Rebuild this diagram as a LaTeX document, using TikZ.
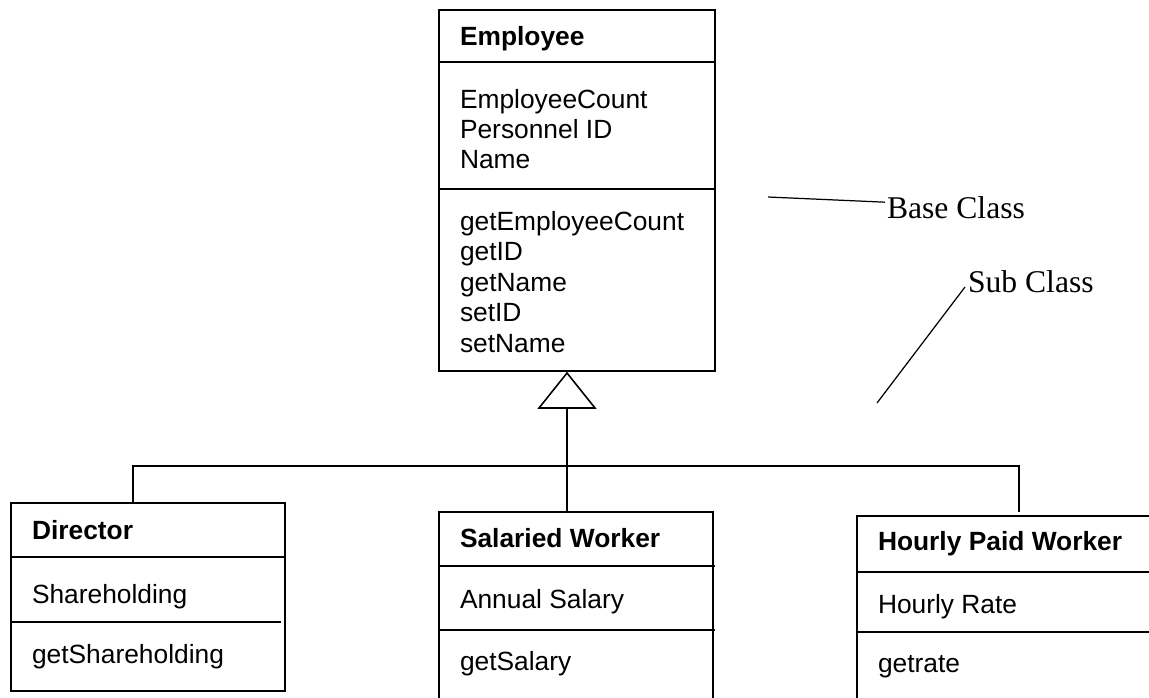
\documentclass[tikz,border=0pt]{standalone}
\usepackage{fontspec}
\setmainfont{Liberation Sans}
\newfontfamily\notefont{Liberation Serif}
\begin{document}
\begin{tikzpicture}[x=0.02cm,y=-0.02cm,inner sep=0pt,outer sep=0pt,line width=0.9pt,
classbox/.style={draw,rectangle,anchor=north west,line width=0.9pt},
member/.style={anchor=base west,font=\fontsize{15}{17}\selectfont},
classtitle/.style={anchor=base west,font=\fontsize{15}{17}\selectfont\bfseries},
note/.style={anchor=base west,font=\notefont\fontsize{18}{21}\selectfont},
leader/.style={line width=0.7pt}]

\useasboundingbox (0,0) rectangle (1149,697);
\clip (0,0) rectangle (1149,697);

% base class
\draw (439,10) node[classbox,minimum width=5.52cm,minimum height=7.22cm] (emp) {};
\draw (emp.west |- 0,62) -- (emp.east |- 0,62);
\draw (emp.west |- 0,189) -- (emp.east |- 0,189);
\node[classtitle] (empname) at (460,45) {Employee};
\foreach \txt [count=\i] in {EmployeeCount,Personnel ID,Name}
  \node[member] (empattr\i) at (460,78+30*\i) {\txt};
\foreach \txt [count=\i] in {getEmployeeCount,getID,getName,setID,setName}
  \node[member] (empop\i) at (460,199.5+30.5*\i) {\txt};

% sub classes
\draw (11,503) node[classbox,minimum width=5.48cm,minimum height=3.76cm] (dir) {};
\draw (dir.west |- 0,557) -- (dir.east |- 0,557);
\draw (dir.west |- 0,622) -- (281,622);
\node[classtitle] (dirname) at (32,539) {Director};
\node[member] (dirattr) at (32,603) {Shareholding};
\node[member] (dirop) at (32,663) {getShareholding};

\draw (439,512) node[classbox,minimum width=5.48cm,minimum height=4cm] (sal) {};
\draw (sal.west |- 0,566) -- (715,566);
\draw (sal.west |- 0,630) -- (715,630);
\node[classtitle] (salname) at (460,547) {Salaried Worker};
\node[member] (salattr) at (460,608) {Annual Salary};
\node[member] (salop) at (460,670) {getSalary};

\draw (857,516) node[classbox,minimum width=6.4cm,minimum height=4cm] (hour) {};
\draw (hour.west |- 0,572) -- (hour.east |- 0,572);
\draw (hour.west |- 0,632) -- (hour.east |- 0,632);
\node[classtitle] (hourname) at (878,550) {Hourly Paid Worker};
\node[member] (hourattr) at (878,613) {Hourly Rate};
\node[member] (hourop) at (878,672) {getrate};

% inheritance
\coordinate (tip) at (567,373);
\coordinate (tri) at (567,408);
\coordinate (busL) at (133,466);
\coordinate (busR) at (1019,466);
\draw[fill=white] (tip) -- ++(-28,35) -- ++(56,0) -- cycle;
\draw (tri) -- (tri |- sal.north);
\draw (busL |- dir.north) -- (busL) -- (busR) -- (busR |- 0,512);

% notes
\node[note] (base) at (887,218) {Base Class};
\node[note] (sub) at (968,292) {Sub Class};
\coordinate (basefoot) at (768,197);
\coordinate (subfoot) at (877,403);
\draw[leader] (basefoot) -- ([xshift=-0.04cm,yshift=0.1cm]base.west);
\draw[leader] (subfoot) -- ([xshift=-0.06cm,yshift=0.1cm]sub.base west);
\end{tikzpicture}
\end{document}
